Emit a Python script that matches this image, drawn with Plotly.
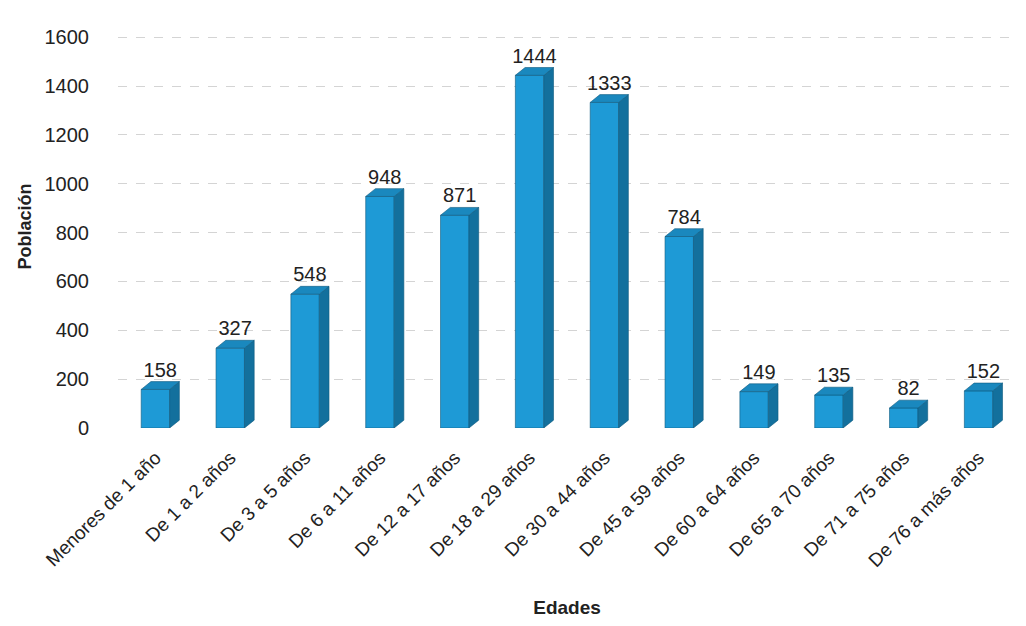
import plotly.graph_objects as go
import numpy as np

categories = ["Menores de 1 año", "De 1 a 2 años", "De 3 a 5 años", "De 6 a 11 años",
              "De 12 a 17 años", "De 18 a 29 años", "De 30 a 44 años", "De 45 a 59 años",
              "De 60 a 64 años", "De 65 a 70 años", "De 71 a 75 años", "De 76 a más años"]
poblacion = [158, 327, 548, 948, 871, 1444, 1333, 784, 149, 135, 82, 152]
y_ticks = [0, 200, 400, 600, 800, 1000, 1200, 1400, 1600]

x = np.arange(len(categories))
FRONT = "#1E9AD6"
SIDE = "#13709D"
TOP = "#1A88BE"
EDGE = "#0f5a80"
FONT = "Liberation Sans, Arial, sans-serif"
HW = 0.19   # half width of front face (x units)
DX = 0.13   # depth in x
DY = 32     # depth in y units

# 3D faces built from the data values
side_x, side_y, top_x, top_y = [], [], [], []
for xi, v in zip(x, poblacion):
    xr, xl = xi + HW, xi - HW
    side_x += [xr, xr + DX, xr + DX, xr, xr, None]
    side_y += [0, DY, v + DY, v, 0, None]
    top_x += [xl, xl + DX, xr + DX, xr, xl, None]
    top_y += [v, v + DY, v + DY, v, v, None]

fig = go.Figure()
fig.add_trace(go.Bar(x=x, y=poblacion, width=2 * HW,
                     marker=dict(color=FRONT, line=dict(color=EDGE, width=0.6)),
                     showlegend=False))
fig.add_trace(go.Scatter(x=side_x, y=side_y, mode="lines", fill="toself", fillcolor=SIDE,
                         line=dict(color=EDGE, width=0.6), hoverinfo="skip", showlegend=False))
fig.add_trace(go.Scatter(x=top_x, y=top_y, mode="lines", fill="toself", fillcolor=TOP,
                         line=dict(color=EDGE, width=0.6), hoverinfo="skip", showlegend=False))
# value labels
fig.add_trace(go.Scatter(x=x + DX / 2, y=[v + DY for v in poblacion], mode="text",
                         text=[str(v) for v in poblacion], textposition="top center",
                         textfont=dict(family=FONT, size=20, color="#222222"),
                         hoverinfo="skip", showlegend=False))

fig.update_layout(
    width=1026, height=626,
    margin=dict(l=118, r=10, t=25, b=198),
    paper_bgcolor="white", plot_bgcolor="white",
    font=dict(family=FONT, color="#222222"),
    xaxis=dict(range=[-0.5, 11.5], tickmode="array", tickvals=x, ticktext=categories,
               tickangle=-45, tickfont=dict(size=19), showgrid=False, zeroline=False,
               showline=False, ticks="", ticklabelstandoff=14,
               title=dict(text="<b>Edades</b>", font=dict(size=19), standoff=30)),
    yaxis=dict(range=[0, 1650], tickmode="array", tickvals=y_ticks,
               tickfont=dict(size=20), showgrid=True, gridcolor="#d4d4d4",
               griddash="dash", gridwidth=1, zeroline=False, showline=False,
               ticklabelstandoff=28,
               title=dict(text="<b>Población</b>", font=dict(size=18), standoff=8)),
)

fig.write_html("out.html")
